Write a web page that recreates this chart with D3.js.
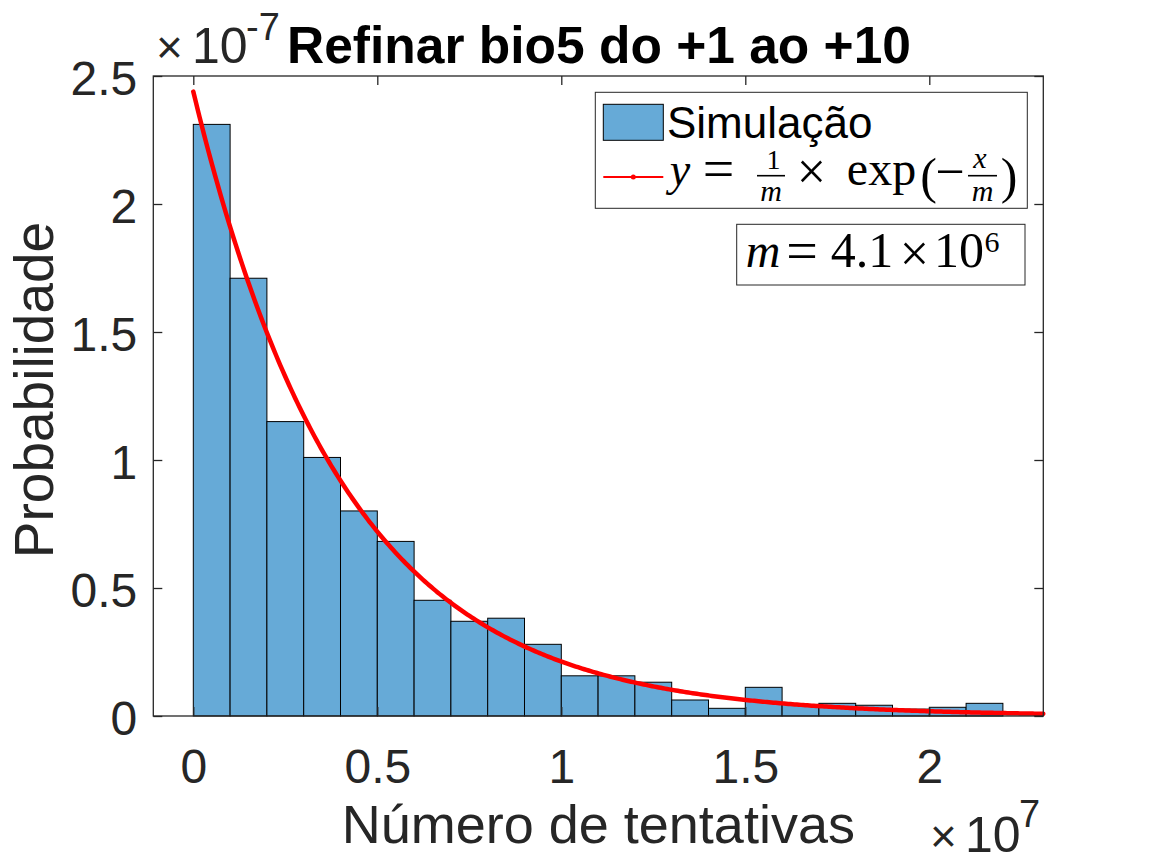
<!DOCTYPE html>
<html>
<head>
<meta charset="utf-8">
<script src="https://cdn.jsdelivr.net/npm/d3@7"></script>
<style>
  html, body { margin: 0; padding: 0; background: #ffffff; }
  svg { display: block; }
  text { font-family: "Liberation Sans", Arial, Helvetica, sans-serif; }
</style>
</head>
<body>
<svg id="chart" width="1152" height="864"></svg>
<script>
// ---------- data ----------
const binWidth = 1e6;                       // histogram bin width (tentativas)
const binStarts = [0,1e6,2e6,3e6,4e6,5e6,6e6,7e6,8e6,9e6,10e6,11e6,12e6,13e6,14e6,15e6,16e6,17e6,18e6,19e6,20e6,21e6];
const probValues = [2.311,1.710,1.150,1.010,0.801,0.682,0.452,0.370,0.382,0.280,0.157,0.157,0.132,0.0625,0.030,0.112,0.045,0.0495,0.042,0.027,0.034,0.0495]; // x 1e-7
const mParam = 4.1e6;
const xTicks = [0, 0.5e7, 1e7, 1.5e7, 2e7];
const xTickLabels = ["0", "0.5", "1", "1.5", "2"];
const yTicks = [0, 0.5e-7, 1e-7, 1.5e-7, 2e-7, 2.5e-7];
const yTickLabels = ["0", "0.5", "1", "1.5", "2", "2.5"];
const xDomain = [-0.1087e7, 2.3098e7];
const yDomain = [0, 2.5e-7];
const titleText = "Refinar bio5 do +1 ao +10";
const xLabelText = "Número de tentativas";
const yLabelText = "Probabilidade";
const legendLabel = "Simulação";

// ---------- layout ----------
const L = 153.3, R = 1043.3, T = 76, B = 716;
const axisColor = "#262626";
const barColor = "#66aad7";

const svg = d3.select("#chart");
const x = d3.scaleLinear().domain(xDomain).range([L, R]);
const y = d3.scaleLinear().domain(yDomain).range([B, T]);

// bars
const bins = binStarts.map((s, i) => ({ x0: s, x1: s + binWidth, v: probValues[i] * 1e-7 }));
svg.append("g").selectAll("rect").data(bins).join("rect")
  .attr("x", d => x(d.x0))
  .attr("y", d => y(d.v))
  .attr("width", d => x(d.x1) - x(d.x0))
  .attr("height", d => y(0) - y(d.v))
  .attr("fill", barColor)
  .attr("stroke", "#000")
  .attr("stroke-width", 1);

// fitted curve
const curvePts = d3.range(0, 401).map(i => {
  const xv = xDomain[1] * i / 400;
  return [xv, (1 / mParam) * Math.exp(-xv / mParam)];
});
svg.append("path")
  .datum(curvePts)
  .attr("d", d3.line().x(d => x(d[0])).y(d => y(d[1])))
  .attr("fill", "none")
  .attr("stroke", "#ff0000")
  .attr("stroke-width", 4.5)
  .attr("stroke-linecap", "round")
  .attr("stroke-linejoin", "round");

// axes (inside ticks, box on with mirrored ticks)
const tickFont = 48;
const fmtX = d => xTickLabels[xTicks.indexOf(d)];
const fmtY = d => yTickLabels[yTicks.indexOf(d)];

const gx = svg.append("g").attr("transform", `translate(0,${B})`)
  .call(d3.axisBottom(x).tickValues(xTicks).tickFormat(fmtX).tickSizeInner(-9).tickSizeOuter(0).tickPadding(33));
const gxTop = svg.append("g").attr("transform", `translate(0,${T})`)
  .call(d3.axisTop(x).tickValues(xTicks).tickFormat("").tickSizeInner(-9).tickSizeOuter(0));
const gy = svg.append("g").attr("transform", `translate(${L},0)`)
  .call(d3.axisLeft(y).tickValues(yTicks).tickFormat(fmtY).tickSizeInner(-9).tickSizeOuter(0).tickPadding(16));
const gyRight = svg.append("g").attr("transform", `translate(${R},0)`)
  .call(d3.axisRight(y).tickValues(yTicks).tickFormat("").tickSizeInner(-9).tickSizeOuter(0));

[gx, gxTop, gy, gyRight].forEach(g => {
  g.select(".domain").remove();
  g.selectAll(".tick line").attr("stroke", axisColor).attr("stroke-width", 1.3);
  g.selectAll(".tick text")
    .attr("fill", axisColor)
    .style("font-family", '"Liberation Sans", Arial, sans-serif')
    .style("font-size", tickFont + "px");
});
gx.selectAll(".tick text").attr("dy", "0.71em");
gy.selectAll(".tick text").attr("dy", "0.39em");

// axes box
svg.append("rect").attr("x", L).attr("y", T).attr("width", R - L).attr("height", B - T)
  .attr("fill", "none").attr("stroke", axisColor).attr("stroke-width", 1.3);

// exponent labels
function expLabel(xTimes, xTen, xSup, base, supBase, supText) {
  const g = svg.append("g").attr("fill", axisColor);
  g.append("text").attr("x", xTimes).attr("y", base).style("font-size", "46px")
    .style("font-weight", "300").text("×");
  g.append("text").attr("x", xTen).attr("y", base).style("font-size", "50px").text("10");
  g.append("text").attr("x", xSup).attr("y", supBase).style("font-size", "38px").text(supText);
}
expLabel(156, 192, 246, 63, 40, "-7");
expLabel(930, 965, 1019, 852, 827, "7");

// title
svg.append("text").attr("x", 599).attr("y", 63).attr("text-anchor", "middle")
  .attr("fill", "#000").style("font-size", "51.5px").style("font-weight", "bold").text(titleText);

// axis labels
svg.append("text").attr("x", (L + R) / 2).attr("y", 843).attr("text-anchor", "middle")
  .attr("fill", axisColor).style("font-size", "54px").text(xLabelText);
svg.append("text").attr("transform", `translate(53,${(T + B) / 2 - 6}) rotate(-90)`).attr("text-anchor", "middle")
  .attr("fill", axisColor).style("font-size", "55px").text(yLabelText);

// legend
const leg = svg.append("g");
leg.append("rect").attr("x", 595.3).attr("y", 92.3).attr("width", 432).attr("height", 116)
  .attr("fill", "#fff").attr("stroke", axisColor).attr("stroke-width", 1);
leg.append("rect").attr("x", 603.3).attr("y", 104.3).attr("width", 60).attr("height", 36)
  .attr("fill", barColor).attr("stroke", "#000").attr("stroke-width", 1);
leg.append("text").attr("x", 667).attr("y", 138.3).attr("fill", "#000")
  .style("font-size", "44px").text(legendLabel);
leg.append("line").attr("x1", 603.3).attr("x2", 663.3).attr("y1", 177).attr("y2", 177)
  .attr("stroke", "#ff0000").attr("stroke-width", 2);
leg.append("circle").attr("cx", 633.3).attr("cy", 177).attr("r", 2.5).attr("fill", "#ff0000");

function mtext(g, cx, base, str, size, italic) {
  return g.append("text").attr("x", cx).attr("y", base)
    .attr("text-anchor", "middle").attr("fill", "#000")
    .style("font-family", '"Liberation Serif", "DejaVu Serif", serif')
    .style("font-size", size + "px").style("font-style", italic ? "italic" : "normal").text(str);
}
function fracBar(g, x1, x2, yy) {
  g.append("line").attr("x1", x1).attr("x2", x2).attr("y1", yy).attr("y2", yy)
    .attr("stroke", "#000").attr("stroke-width", 1.6);
}
mtext(leg, 680, 185, "y", 46, true);
mtext(leg, 718.5, 188, "=", 56, false);
mtext(leg, 773.5, 169, "1", 28, false);
fracBar(leg, 757, 785, 175.7);
mtext(leg, 771, 201, "m", 30, true);
mtext(leg, 811.5, 189, "×", 52, false);
mtext(leg, 881.5, 185, "exp", 48, false);
mtext(leg, 928.5, 193, "(", 50, false);
mtext(leg, 950, 189, "−", 52, false);
mtext(leg, 980, 168, "x", 30, true);
fracBar(leg, 968, 997, 175.7);
mtext(leg, 982.5, 201, "m", 30, true);
mtext(leg, 1009, 193, ")", 50, false);

// parameter box
const pb = svg.append("g");
pb.append("rect").attr("x", 736.7).attr("y", 224.3).attr("width", 288.3).attr("height", 60.7)
  .attr("fill", "#fff").attr("stroke", axisColor).attr("stroke-width", 1);
mtext(pb, 763, 267, "m", 48, true);
mtext(pb, 802, 270, "=", 56, false);
mtext(pb, 862, 267, "4.1", 50, false);
mtext(pb, 914.5, 271, "×", 52, false);
mtext(pb, 959, 267, "10", 50, false);
mtext(pb, 992, 252, "6", 30, false);
</script>
</body>
</html>
